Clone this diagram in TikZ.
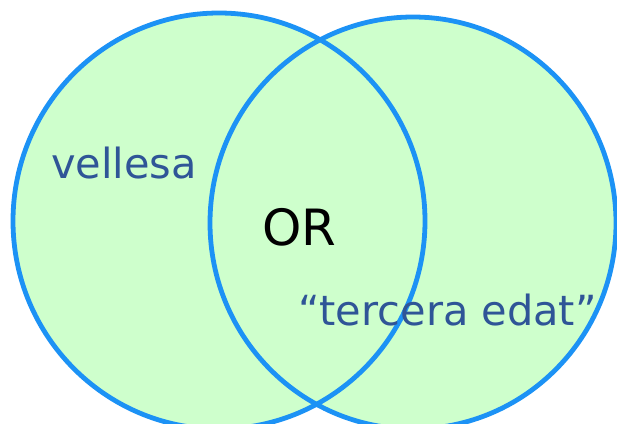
\documentclass[tikz,border=0pt]{standalone}
\usepackage{fontspec}
\setmainfont{DejaVu Sans}
\definecolor{ringblue}{RGB}{28,146,245}
\definecolor{setfill}{RGB}{206,255,204}
\definecolor{labelblue}{RGB}{47,85,151}
\begin{document}
\begin{tikzpicture}[x=1pt,y=-1pt,
  ring/.style={draw=ringblue,line width=4.8pt},
  settext/.style={inner sep=0pt,text=labelblue,font=\fontsize{41.5}{48}\selectfont},
  optext/.style={inner sep=0pt,text=black,font=\fontsize{50}{60}\selectfont}]
\useasboundingbox (0,0) rectangle (617,423);
\clip (0,0) rectangle (617,423);
\coordinate (cl) at (219,221);
\coordinate (cr) at (413,223);
\fill[setfill] (cl) ellipse [x radius=206,y radius=208];
\fill[setfill] (cr) ellipse [x radius=203,y radius=206];
\path[ring] (cl) ellipse [x radius=206,y radius=208];
\path[ring] (cr) ellipse [x radius=203,y radius=206];
\node[settext,anchor=base west] (vellesa) at (51,178) {vellesa};
\node[optext,anchor=base west] (or) at (262,245) {OR};
\node[settext,anchor=base west] (edat) at (298,325) {“tercera edat”};
\end{tikzpicture}
\end{document}
